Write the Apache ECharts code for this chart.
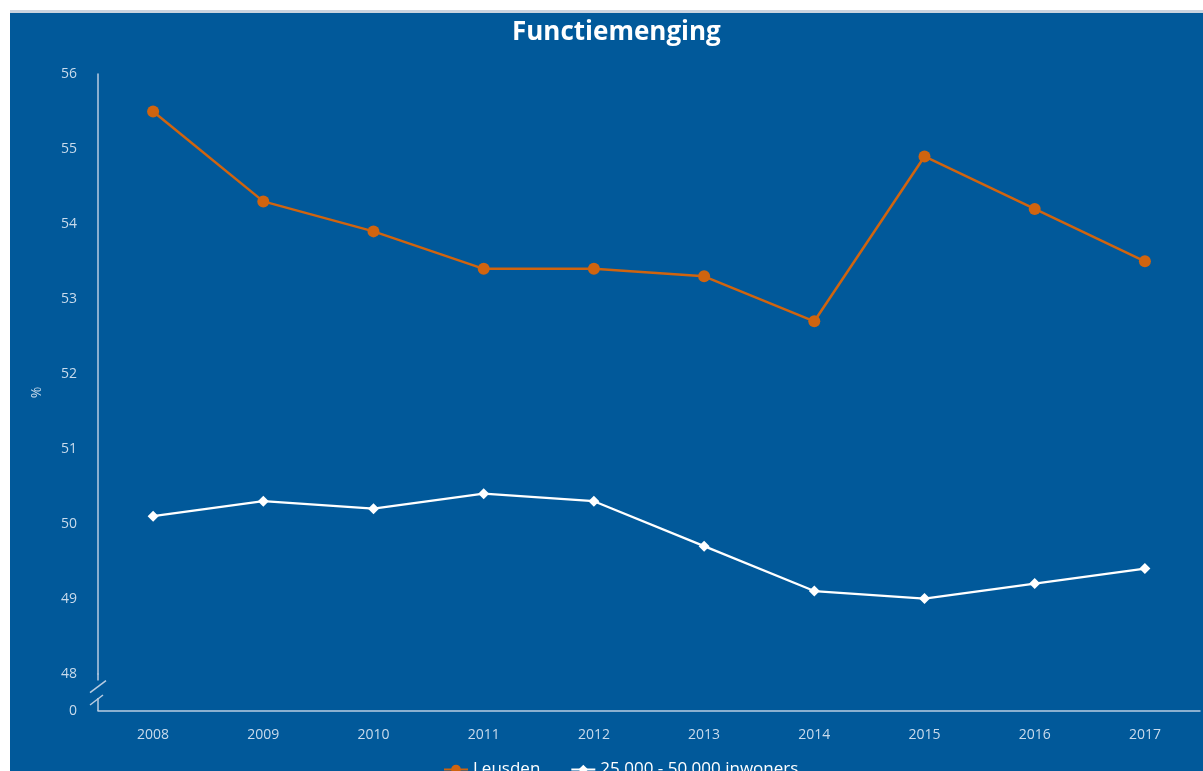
<!DOCTYPE html>
<html>
<head>
<meta charset="utf-8">
<script src="https://cdn.jsdelivr.net/npm/echarts@6/dist/echarts.min.js"></script>
<style>
  html, body { margin: 0; padding: 0; background: #fff; overflow: hidden; }
  #wrap {
    position: absolute; left: 10px; top: 10px; width: 1193px; height: 761px;
    border-top: 3px solid #c9d3df;
  }
  #chart { width: 1193px; height: 758px; }
</style>
</head>
<body>
<div id="wrap"><div id="chart"></div></div>
<script>
// values
const years = ['2008', '2009', '2010', '2011', '2012', '2013', '2014', '2015', '2016', '2017']
const leusden = [55.5, 54.3, 53.9, 53.4, 53.4, 53.3, 52.7, 54.9, 54.2, 53.5]
const gemeenten = [50.1, 50.3, 50.2, 50.4, 50.3, 49.7, 49.1, 49.0, 49.2, 49.4]

const bg = '#01599a'
const axisColor = '#b9cde2'
const labelColor = '#c9dbec'
const orange = '#d0640f'

const chart = echarts.init(document.getElementById('chart'), undefined, { renderer: 'canvas' })

chart.setOption({
  backgroundColor: bg,
  textStyle: { fontFamily: '"Open Sans", sans-serif' },
  title: {
    text: 'Functiemenging',
    left: 497,
    top: 2,
    textStyle: { color: '#fff', fontSize: 26, fontWeight: 'bold', fontFamily: '"Open Sans", sans-serif' },
  },
  grid: { left: 88, right: 3, top: 61, bottom: 60 },
  legend: {
    top: 743,
    left: 428,
    itemWidth: 24,
    itemHeight: 12,
    itemGap: 30,
    textStyle: { color: '#fff', fontSize: 17 },
    data: ['Leusden', '25.000 - 50.000 inwoners'],
  },
  xAxis: {
    type: 'category',
    data: years,
    boundaryGap: true,
    axisLine: { lineStyle: { color: axisColor, width: 1.5 } },
    axisTick: { show: false },
    axisLabel: { color: labelColor, fontSize: 14, margin: 17 },
  },
  yAxis: {
    type: 'value',
    min: 0,
    max: 56,
    interval: 1,
    name: '%',
    nameLocation: 'middle',
    nameGap: 54,
    nameRotate: 90,
    nameTextStyle: { color: labelColor, fontSize: 14 },
    breaks: [{ start: 0, end: 48, gap: 0.5 }],
    breakArea: {
      show: true,
      itemStyle: { color: 'rgba(0,0,0,0)', borderColor: 'rgba(0,0,0,0)', borderWidth: 0, opacity: 0 },
    },
    axisLine: { show: true, lineStyle: { color: axisColor, width: 1.5 } },
    axisTick: { show: false },
    splitLine: { show: false },
    axisLabel: { color: labelColor, fontSize: 14, margin: 21 },
  },
  series: [
    {
      name: 'Leusden',
      type: 'line',
      data: leusden,
      symbol: 'circle',
      symbolSize: 12,
      color: orange,
      lineStyle: { color: orange, width: 2.5 },
      itemStyle: { color: orange },
    },
    {
      name: '25.000 - 50.000 inwoners',
      type: 'line',
      data: gemeenten,
      symbol: 'diamond',
      symbolSize: 11,
      color: '#fff',
      lineStyle: { color: '#fff', width: 2.2 },
      itemStyle: { color: '#fff' },
    },
  ],
})

// axis break marks "//" placed via the axis scale
function drawBreak() {
  const x = chart.convertToPixel({ xAxisIndex: 0 }, 0) - (chart.convertToPixel({ xAxisIndex: 0 }, 1) - chart.convertToPixel({ xAxisIndex: 0 }, 0)) / 2
  const yTop = chart.convertToPixel({ yAxisIndex: 0 }, 48)
  const yBot = chart.convertToPixel({ yAxisIndex: 0 }, 0)
  const stroke = { stroke: axisColor, lineWidth: 1.5 }
  const s1 = yTop + 13
  const s2 = yBot - 11
  chart.setOption({
    graphic: [
      { type: 'rect', z: 100, shape: { x: x - 2, y: yTop + 7, width: 4, height: yBot - yTop - 20 }, style: { fill: bg } },
      { type: 'line', z: 101, shape: { x1: x, y1: yTop, x2: x, y2: yTop + 7 }, style: stroke },
      { type: 'line', z: 101, shape: { x1: x, y1: yBot - 13, x2: x, y2: yBot }, style: stroke },
      { type: 'line', z: 101, shape: { x1: x - 8, y1: s1 + 6, x2: x + 8, y2: s1 - 6 }, style: stroke },
      { type: 'line', z: 101, shape: { x1: x - 8, y1: s2 + 5, x2: x + 5, y2: s2 - 5 }, style: stroke },
    ],
  })
}
drawBreak()
</script>
</body>
</html>
